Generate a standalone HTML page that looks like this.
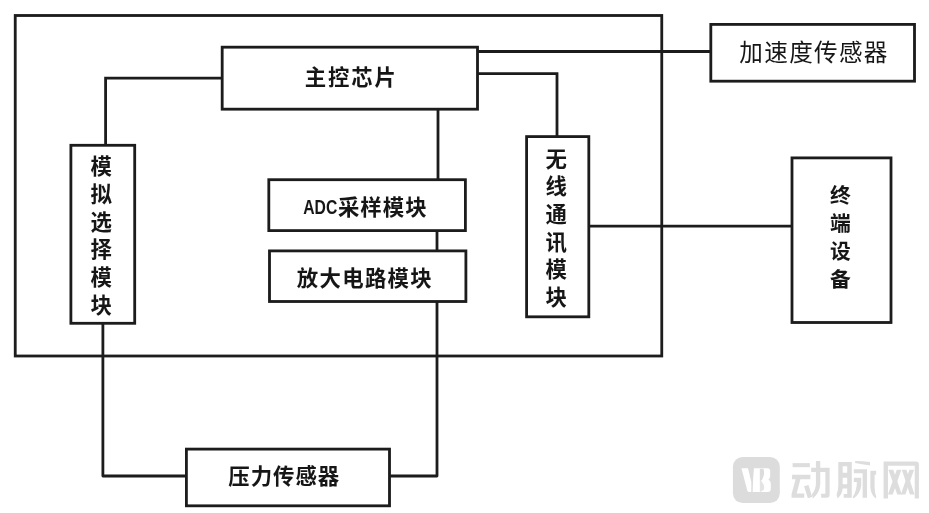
<!DOCTYPE html>
<html><head><meta charset="utf-8"><title>diagram</title>
<style>
html,body{margin:0;padding:0;background:#fff;}
body{width:929px;height:513px;overflow:hidden;font-family:"Liberation Sans",sans-serif;}
svg{display:block;}
</style></head><body>
<svg width="929" height="513" viewBox="0 0 929 513">
<rect width="929" height="513" fill="#ffffff"/>
<defs><filter id="soft" x="-2%" y="-2%" width="104%" height="104%"><feGaussianBlur stdDeviation="0.45"/></filter></defs>
<g id="wm">
<g fill="#dcdcdc">
<rect x="732.9" y="456.9" width="46.9" height="46.1" rx="9.8" ry="9.8"/>
</g>
<g transform="translate(738,464) scale(0.06238)" fill="#ffffff">
<path d="M55,68 H160 L213,290 V435 Q213,448 200,448 H172 Q155,448 150,430 Z"/>
<path d="M255,68 H478 Q516,70 516,110 V195 Q514,230 488,250 Q526,275 526,315 V395 Q524,446 478,448 H235 Q238,250 255,68 Z"/>
</g>
<g transform="translate(738,464) scale(0.06238)">
<path fill="#dcdcdc" d="M350,76 H408 Q432,150 402,215 Q388,248 372,270 H350 Z"/>
<path fill="#e4e4e4" d="M350,272 H374 Q430,340 418,395 Q405,435 366,444 H350 Z"/>
</g>
<g transform="translate(786,454) scale(0.10142)" fill="#dddddd">
<path d="M65,90 H235 V130 H65 Z"/>
<path d="M60,205 H240 V248 H142 L105,390 H180 V432 H55 V395 L95,248 H60 Z"/>
<path d="M178,318 L222,305 L258,425 L215,436 Z"/>
<path d="M248,135 H295 V70 H338 V135 H430 V405 Q430,432 400,432 H348 L345,392 H388 V178 H338 V290 Q335,380 265,440 L255,398 Q295,350 295,290 V178 H248 Z"/>
</g>
<g transform="translate(831,454) scale(0.10142)" fill="#dddddd">
<path d="M72,80 H205 V432 H125 V395 H160 V340 H115 Q112,395 65,440 L55,402 Q72,360 72,310 Z M115,122 V185 H160 V122 Z M115,235 V298 H160 V235 Z"/>
<path d="M238,70 Q320,72 385,80 V113 Q300,100 238,88 Z"/>
<path d="M225,150 H355 V432 H312 V190 H225 Z"/>
<path d="M225,235 H298 V310 Q290,390 222,440 L214,425 Q255,360 255,275 H225 Z"/>
<path d="M388,165 H445 V205 H430 V330 Q432,390 447,425 L440,440 Q395,400 388,330 Z"/>
</g>
<g transform="translate(877,454) scale(0.10142)" fill="#dddddd">
<path d="M65,75 H385 Q413,75 413,103 V440 H372 V115 H108 V440 H65 Z"/>
<path d="M112,155 H160 L245,400 H200 Z"/>
<path d="M195,155 H240 L155,400 H108 Z"/>
<path d="M245,155 H290 L370,400 H325 Z"/>
<path d="M320,155 H365 L280,400 H235 Z"/>
</g>
</g>
<g filter="url(#soft)">
<g fill="none" stroke="#1b1b1b" stroke-width="2.8" stroke-linejoin="miter" stroke-linecap="butt">
<rect x="15.25" y="15.50" width="646.50" height="340.50"/>
<rect x="222.20" y="47.20" width="255.30" height="62.00"/>
<rect x="70.90" y="145.30" width="63.80" height="178.00"/>
<rect x="268.80" y="179.70" width="196.60" height="50.90"/>
<rect x="269.50" y="250.90" width="196.40" height="50.60"/>
<rect x="526.60" y="136.60" width="62.20" height="180.20"/>
<rect x="710.80" y="24.40" width="203.70" height="56.80"/>
<rect x="792.00" y="157.90" width="99.00" height="164.60"/>
<rect x="186.40" y="449.10" width="203.10" height="56.70"/>
<polyline  points="222.20,78.10 105.60,78.10 105.60,145.30"/>
<polyline  points="477.50,51.50 710.80,51.50"/>
<polyline  points="477.50,73.70 557.00,73.70 557.00,136.60"/>
<polyline  points="438.00,109.20 438.00,179.70"/>
<polyline  points="437.00,230.60 437.00,250.90"/>
<polyline stroke-linejoin="round" points="437.00,301.50 437.00,476.00 389.50,476.00"/>
<polyline stroke-linejoin="round" points="102.90,323.30 102.90,476.00 186.40,476.00"/>
<polyline  points="588.80,226.20 792.00,226.20"/>
</g>
<g fill="#171717" font-family="&quot;Liberation Sans&quot;, &quot;Noto Sans CJK SC&quot;, sans-serif" font-weight="700" font-size="21.4">
<text x="304.64 327.90 351.15 374.40" y="85.46">主控芯片</text>
<text x="296.82 319.51 342.20 364.89 387.58 410.26" y="285.88">放大电路模块</text>
<text x="228.32 250.71 273.10 295.48 317.87" y="484.41">压力传感器</text>
<text x="303.26" y="213.70" font-size="19.5" textLength="34" lengthAdjust="spacingAndGlyphs">ADC</text>
<text x="337.88 360.34 382.80 405.26" y="214.70">采样模块</text>
<text x="739.34 764.23 789.13 814.02 838.92 863.81" y="61.19" font-size="23.6" font-weight="400">加速度传感器</text>
<text x="90.60 90.60 90.60 90.60 90.60 90.60" y="174.22 201.92 229.62 257.32 285.02 312.72">模拟选择模块</text>
<text x="545.50 545.50 545.50 545.50 545.50 545.50" y="166.89 194.43 221.97 249.51 277.05 304.59">无线通讯模块</text>
<text x="830.00 830.00 830.00 830.00" y="203.30 231.03 258.76 286.50" font-size="20.8">终端设备</text>
</g>
</g>
</svg>
</body></html>
